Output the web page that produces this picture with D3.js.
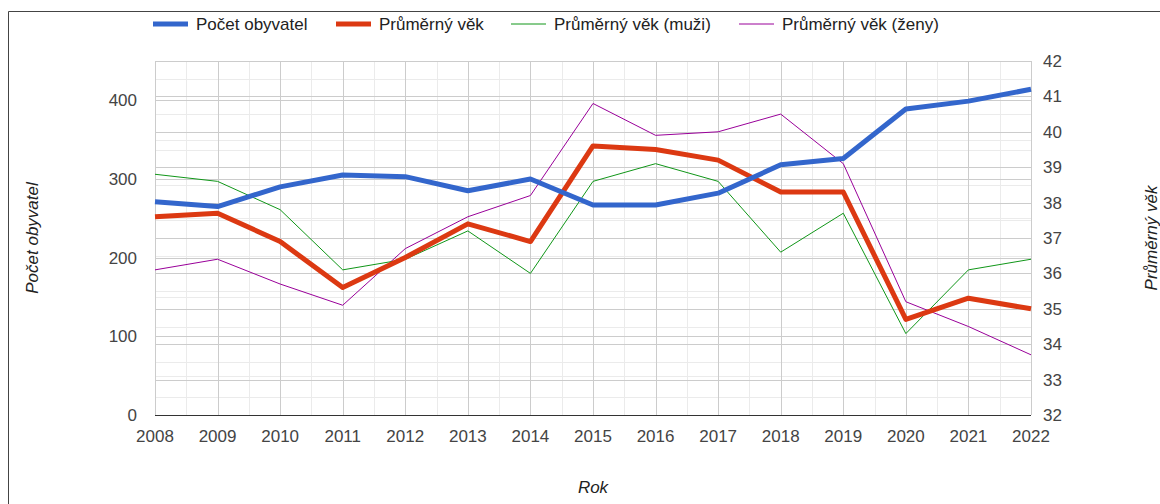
<!doctype html>
<html lang="cs">
<head>
<meta charset="utf-8">
<title>Obyvatelstvo</title>
<script src="https://d3js.org/d3.v7.min.js"></script>
<style>
  body { margin: 0; background: #fff; }
  svg { display: block; font-family: Arial, "Liberation Sans", sans-serif; }
  .tick-label { fill: #444; font-size: 17px; }
  .legend-label { fill: #222; font-size: 17px; }
  .axis-title { fill: #222; font-size: 17px; font-style: italic; }
</style>
</head>
<body>
<svg id="chart" width="1160" height="504"></svg>
<script>
  // data
  var years = [2008, 2009, 2010, 2011, 2012, 2013, 2014, 2015, 2016, 2017, 2018, 2019, 2020, 2021, 2022];
  var population = [271, 265, 290, 305, 303, 285, 300, 267, 267, 282, 318, 326, 389, 399, 414];
  var avgAge = [37.6, 37.7, 36.9, 35.6, 36.45, 37.4, 36.9, 39.6, 39.5, 39.2, 38.3, 38.3, 34.7, 35.3, 35.0];
  var avgAgeMen = [38.8, 38.6, 37.8, 36.1, 36.4, 37.2, 36.0, 38.6, 39.1, 38.6, 36.6, 37.7, 34.3, 36.1, 36.4];
  var avgAgeWomen = [36.1, 36.4, 35.7, 35.1, 36.7, 37.6, 38.2, 40.8, 39.9, 40.0, 40.5, 39.1, 35.2, 34.5, 33.7];

  var leftTicks = [0, 100, 200, 300, 400];
  var rightTicks = [32, 33, 34, 35, 36, 37, 38, 39, 40, 41, 42];

  var seriesNames = ["Počet obyvatel", "Průměrný věk", "Průměrný věk (muži)", "Průměrný věk (ženy)"];
  var seriesColors = ["#3366cc", "#dc3912", "#109618", "#990099"];
  var seriesWidths = [5, 5, 1, 1];

  var plotL = 155, plotR = 1031, plotT = 61, plotB = 415;

  var svg = d3.select("#chart");

  var x = d3.scaleLinear().domain([2008, 2022]).range([plotL, plotR]);
  var yL = d3.scaleLinear().domain([0, 450]).range([plotB, plotT]);
  var yR = d3.scaleLinear().domain([32, 42]).range([plotB, plotT]);

  // outer frame (top + left)
  svg.append("path")
    .attr("d", "M8.5,504 V11.5 H1160")
    .attr("fill", "none")
    .attr("stroke", "#444")
    .attr("stroke-width", 1);

  var grid = svg.append("g").attr("shape-rendering", "crispEdges");

  // minor gridlines
  var halfYears = d3.range(2008.5, 2022, 1);
  grid.selectAll(".vminor").data(halfYears).enter().append("line")
    .attr("x1", function(d) { return Math.round(x(d)) + 0.5; })
    .attr("x2", function(d) { return Math.round(x(d)) + 0.5; })
    .attr("y1", plotT).attr("y2", plotB)
    .attr("stroke", "#ebebeb");

  var leftMinor = d3.range(50, 450, 100);
  grid.selectAll(".lminor").data(leftMinor).enter().append("line")
    .attr("x1", plotL).attr("x2", plotR)
    .attr("y1", function(d) { return Math.round(yL(d)) + 0.5; })
    .attr("y2", function(d) { return Math.round(yL(d)) + 0.5; })
    .attr("stroke", "#ebebeb");

  var rightMinor = d3.range(32.5, 42, 1);
  grid.selectAll(".rminor").data(rightMinor).enter().append("line")
    .attr("x1", plotL).attr("x2", plotR)
    .attr("y1", function(d) { return Math.round(yR(d)) + 0.5; })
    .attr("y2", function(d) { return Math.round(yR(d)) + 0.5; })
    .attr("stroke", "#ebebeb");

  // major gridlines
  grid.selectAll(".vmajor").data(years).enter().append("line")
    .attr("x1", function(d) { return Math.round(x(d)) + 0.5; })
    .attr("x2", function(d) { return Math.round(x(d)) + 0.5; })
    .attr("y1", plotT).attr("y2", plotB)
    .attr("stroke", "#cccccc");

  grid.selectAll(".lmajor").data(leftTicks).enter().append("line")
    .attr("x1", plotL).attr("x2", plotR)
    .attr("y1", function(d) { return Math.round(yL(d)) + 0.5; })
    .attr("y2", function(d) { return Math.round(yL(d)) + 0.5; })
    .attr("stroke", "#cccccc");

  grid.selectAll(".rmajor").data(rightTicks).enter().append("line")
    .attr("x1", plotL).attr("x2", plotR)
    .attr("y1", function(d) { return Math.round(yR(d)) + 0.5; })
    .attr("y2", function(d) { return Math.round(yR(d)) + 0.5; })
    .attr("stroke", "#cccccc");

  // baseline
  grid.append("line")
    .attr("x1", plotL).attr("x2", plotR)
    .attr("y1", plotB + 0.5).attr("y2", plotB + 0.5)
    .attr("stroke", "#333");

  // tick labels
  svg.selectAll(".xl").data(years).enter().append("text")
    .attr("class", "tick-label")
    .attr("x", function(d) { return x(d); })
    .attr("y", 442)
    .attr("text-anchor", "middle")
    .text(function(d) { return d; });

  svg.selectAll(".ll").data(leftTicks).enter().append("text")
    .attr("class", "tick-label")
    .attr("x", 137)
    .attr("y", function(d) { return yL(d) + 6; })
    .attr("text-anchor", "end")
    .text(function(d) { return d; });

  svg.selectAll(".rl").data(rightTicks).enter().append("text")
    .attr("class", "tick-label")
    .attr("x", 1043)
    .attr("y", function(d) { return yR(d) + 6; })
    .attr("text-anchor", "start")
    .text(function(d) { return d; });

  // axis titles
  svg.append("text").attr("class", "axis-title")
    .attr("transform", "translate(38," + (plotT + plotB) / 2 + ") rotate(-90)")
    .attr("text-anchor", "middle")
    .text("Počet obyvatel");

  svg.append("text").attr("class", "axis-title")
    .attr("transform", "translate(1157," + (plotT + plotB) / 2 + ") rotate(-90)")
    .attr("text-anchor", "middle")
    .text("Průměrný věk");

  svg.append("text").attr("class", "axis-title")
    .attr("x", (plotL + plotR) / 2)
    .attr("y", 493)
    .attr("text-anchor", "middle")
    .text("Rok");

  // series lines
  var lineL = d3.line()
    .x(function(d, i) { return x(years[i]); })
    .y(function(d) { return yL(d); });
  var lineR = d3.line()
    .x(function(d, i) { return x(years[i]); })
    .y(function(d) { return yR(d); });

  var plotted = [
    { values: avgAgeWomen, line: lineR, idx: 3 },
    { values: avgAgeMen, line: lineR, idx: 2 },
    { values: avgAge, line: lineR, idx: 1 },
    { values: population, line: lineL, idx: 0 }
  ];

  svg.append("g").selectAll("path").data(plotted).enter().append("path")
    .attr("d", function(d) { return d.line(d.values); })
    .attr("fill", "none")
    .attr("stroke", function(d) { return seriesColors[d.idx]; })
    .attr("stroke-width", function(d) { return seriesWidths[d.idx]; })
    .attr("stroke-linejoin", "round");

  // legend
  var legendX = [153, 336, 511, 739];
  var legend = svg.append("g").selectAll("g").data(seriesNames).enter().append("g")
    .attr("transform", function(d, i) { return "translate(" + legendX[i] + ",24)"; });

  legend.append("line")
    .attr("x1", 0).attr("x2", 35).attr("y1", 0).attr("y2", 0)
    .attr("stroke", function(d, i) { return seriesColors[i]; })
    .attr("stroke-width", function(d, i) { return seriesWidths[i]; });

  legend.append("text")
    .attr("class", "legend-label")
    .attr("x", 43)
    .attr("y", 6)
    .text(function(d) { return d; });
</script>
</body>
</html>
